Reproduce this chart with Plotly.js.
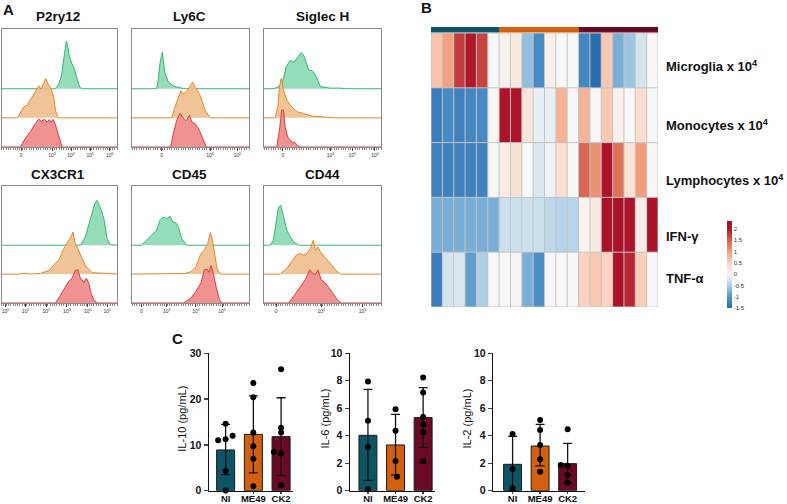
<!DOCTYPE html>
<html><head><meta charset="utf-8">
<script src="https://cdn.plot.ly/plotly-3.0.1.min.js"></script>
<style>html,body{margin:0;padding:0;background:#fff}#chart{width:787px;height:504px}</style>
</head><body><div id="chart"></div>
<script>
// ---------------- Panel A: flow histograms (x in display units 0-100, heights in lane units) ----------------
const histTitles = ['P2ry12', 'Ly6C', 'Siglec H', 'CX3CR1', 'CD45', 'CD44'];

const p2ry12GreenX = [0,46.5,49.6,51.9,54.5,56.2,57.3,58.8,61.1,63.1,65.4,67.7,70,100];
const p2ry12GreenH = [0,0,0.15,0.45,1.2,1.64,1.45,1.1,0.85,0.68,0.35,0.05,0,0];
const p2ry12OrangeX = [0,14,19.3,22.2,26.5,29.4,32.3,34.3,36.6,38.3,40.9,42.9,45.2,46.7,48.7,100];
const p2ry12OrangeH = [0,0,0.38,0.43,0.72,0.9,1.1,0.98,1.18,1.35,1.12,1.0,0.72,0.26,0,0];
const p2ry12RedX = [0,16.4,20.7,25.1,29.4,32.3,34.3,37.2,39.5,41.5,42.9,44.7,46.7,49.6,52.4,100];
const p2ry12RedH = [0,0,0.3,0.53,0.81,0.96,0.87,0.96,0.85,0.94,0.85,0.95,0.76,0.41,0,0];

const ly6cGreenX = [0,21,22.4,23.9,25.9,28.2,31,35.3,42.5,46,100];
const ly6cGreenH = [0,0,0.3,0.87,1.25,0.53,0.24,0.09,0.02,0,0];
const ly6cOrangeX = [0,33.9,36.8,39.7,41.7,44,46.3,48.9,51.7,54,57.5,59.8,62.6,66.9,100];
const ly6cOrangeH = [0,0,0.38,0.72,0.93,0.82,0.9,1.05,1.22,1.05,0.84,0.59,0.26,0,0];
const ly6cRedX = [0,33,35.3,38.2,41.1,43.4,46.3,49.1,51.1,54,56.9,59.8,63.5,100];
const ly6cRedH = [0,0,0.46,0.92,1.15,1.01,0.9,1.09,0.86,0.8,0.63,0.35,0,0];

const siglecGreenX = [0,8.6,15.2,19,22.4,25.9,28.7,31.9,34.5,38.2,41.1,44,48.3,56.9,65.5,70,100];
const siglecGreenH = [0,0,0.13,0.76,0.97,0.91,1.08,1.24,1.1,0.64,0.62,0.47,0.07,0.02,0.02,0,0];
const siglecOrangeX = [0,9.5,11.8,13.2,14.7,16.7,19.5,22.4,25.3,28.2,33.9,41.1,54,60,100];
const siglecOrangeH = [0,0,0.38,1.07,1.36,0.95,0.61,0.44,0.32,0.21,0.15,0.06,0.02,0,0];
const siglecRedX = [0,10.9,13.2,15.2,16.7,18.1,20.1,23.9,26.7,29.6,31,100];
const siglecRedH = [0,0,0.58,1.27,1.27,0.69,0.35,0.17,0.14,0.02,0,0];

const cx3cr1GreenX = [0,68.3,72.6,75.5,78.4,80.7,82.7,84.7,87,89,91.4,94.2,97,100];
const cx3cr1GreenH = [0,0,0.29,0.69,1.09,1.44,1.55,1.35,1.15,0.86,0.23,0.02,0,0];
const cx3cr1OrangeX = [0,15,19.3,25,33.7,41.8,45.2,49.6,54,58.2,60.5,61.9,63.4,66,69.7,73.5,78.4,92.8,96,100];
const cx3cr1OrangeH = [0,0,0.03,0,0.02,0.14,0.31,0.48,0.89,1.17,1.31,1.46,1.12,0.89,0.54,0.25,0.05,0.02,0,0];
const cx3cr1RedX = [0,46.7,49.6,54,58.2,61.1,64,66,68.3,71.2,73.5,75.5,77.5,79.8,82.7,100];
const cx3cr1RedH = [0,0,0.17,0.46,0.75,0.86,1.13,1.15,0.86,0.71,0.86,0.69,0.35,0.12,0,0];

const cd45GreenX = [0,8,12.4,16.7,21,23.9,26.7,29.6,32.5,34.8,37.6,39.7,42.5,46.8,100];
const cd45GreenH = [0,0,0.17,0.35,0.52,0.86,0.98,0.92,1.0,0.81,0.77,0.63,0.23,0,0];
const cd45OrangeX = [0,10,30,45,50.3,54.6,58.3,61.8,64.7,67,69,71.3,72.7,75.6,100];
const cd45OrangeH = [0,0,0.02,0.02,0.08,0.25,0.66,0.83,1.06,1.44,1.12,0.6,0.2,0,0];
const cd45RedX = [0,44,50.3,54.6,58.9,61.8,64.1,65.8,67.5,69.5,71.8,74.7,76.7,100];
const cd45RedH = [0,0,0.17,0.4,0.69,1.15,1.17,1.06,1.29,1.04,0.58,0.12,0,0];

const cd44GreenX = [0,5.2,8,10.3,12.4,14.4,16.7,19.5,22.4,25.3,29.6,100];
const cd44GreenH = [0,0,0.17,0.86,1.32,1.38,0.98,0.52,0.29,0.12,0,0];
const cd44OrangeX = [0,13.8,19.5,23.9,27.6,30.5,33.9,36.8,39.7,42,44,46,48.3,51.1,55.5,61.2,65.5,100];
const cd44OrangeH = [0,0,0.2,0.43,0.66,0.71,0.66,0.71,0.89,1.17,0.83,0.94,0.77,0.62,0.43,0.14,0,0];
const cd44RedX = [0,21,25.3,31,35.3,39.1,41.1,44,46,48.9,52.6,55.5,58.3,62.6,65.5,100];
const cd44RedH = [0,0,0.23,0.58,0.81,1.15,1.04,0.98,1.15,0.81,0.69,0.52,0.35,0.12,0,0];

const histTickVals = [
  [17, 43.8, 60.2, 76.9, 93.7],
  [25.3, 66.7, 90.2],
  [16.1, 56.9, 75.6, 94.8],
  [3.4, 20.7, 38.8, 56.6, 74.7, 91.6],
  [8, 29.6, 54.6, 77],
  [10.3, 48.9, 84.2]
];
const histTickText = [
  ['0','10<sup>3</sup>','10<sup>4</sup>','10<sup>5</sup>','10<sup>6</sup>'],
  ['0','10<sup>4</sup>','10<sup>5</sup>'],
  ['0','10<sup>4</sup>','10<sup>5</sup>','10<sup>6</sup>'],
  ['10<sup>0</sup>','10<sup>1</sup>','10<sup>2</sup>','10<sup>3</sup>','10<sup>4</sup>','10<sup>5</sup>'],
  ['0','10<sup>3</sup>','10<sup>4</sup>','10<sup>5</sup>'],
  ['0','10<sup>4</sup>','10<sup>5</sup>']
];

// ---------------- Panel B: heatmap ----------------
const hmRowLabels = ['Microglia x 10<sup>4</sup>', 'Monocytes x 10<sup>4</sup>', 'Lymphocytes x 10<sup>4</sup>', 'IFN-γ', 'TNF-α'];
const hmGroups = [0,0,0,0,0,0,1,1,1,1,1,1,1,2,2,2,2,2,2,2];
const hmMicroglia   = [0.65,0.95,1.75,2.05,1.7,0.0,0.08,0.2,-0.65,-1.15,0.1,0.0,0.0,-1.2,-1.5,0.6,-0.8,-0.6,-0.25,0.0];
const hmMonocytes   = [-1.3,-1.15,-1.25,-1.2,-1.15,0.0,2.15,2.15,0.25,-0.1,-0.1,0.8,0.0,0.8,0.0,0.6,0.08,0.0,0.35,0.0];
const hmLymphocytes = [-1.25,-1.25,-1.25,-1.25,-1.25,0.0,0.15,0.3,0.0,-0.2,-0.05,0.35,0.0,1.45,1.1,2.1,1.35,0.3,1.0,0.0];
const hmIFNg        = [-0.8,-0.8,-0.8,-0.8,-0.8,-0.8,-0.3,-0.3,-0.3,-0.3,-0.4,-0.45,-0.45,0.05,0.2,2.2,2.2,2.2,0.15,2.2];
const hmTNFa        = [-1.3,-0.25,-0.2,-0.95,-0.5,0.0,0.0,0.05,-0.8,-1.1,0.0,0.0,0.0,0.5,0.6,0.5,2.2,1.9,0.55,0.0];
const cbTicks = [-1.5,-1,-0.5,0,0.5,1,1.5,2];

// ---------------- Panel C: cytokines ----------------
const groupCats = ['NI','ME49','CK2'];
const groupColors = ['#0d5566','#d3600f','#6b0a24'];

const il10Mean = [8.9, 12.3, 11.8];
const il10Upper = [14.5, 20.7, 20.3];
const il10Lower = [3.5, 3.9, 3.3];
const il10NI = [14.6, 11.0, 11.25, 12.0, 4.3, 0.07];
const il10NIJit = [0, -0.27, 0, 0.25, 0, 0];
const il10ME49 = [23.5, 20.4, 12.7, 9.7, 7.0, 0.96];
const il10ME49Jit = [0,0,0,0,0,0];
const il10CK2 = [26.5, 13.75, 12.7, 8.45, 8.1, 1.2];
const il10CK2Jit = [0,0,0,-0.26,0,0];

const il6Mean = [4.03, 3.33, 5.32];
const il6Upper = [7.38, 5.55, 7.5];
const il6Lower = [0.75, 1.14, 3.15];
const il6NI = [7.94, 5.1, 3.18, 0.1];
const il6NIJit = [0,0,0,0];
const il6ME49 = [5.92, 4.37, 2.16, 1.02];
const il6ME49Jit = [0,0,0,0.05];
const il6CK2 = [8.23, 7.14, 5.36, 4.83, 4.25, 2.14];
const il6CK2Jit = [0,0,0,0,0,0];

const il2Mean = [1.92, 3.25, 1.97];
const il2Upper = [3.96, 4.83, 3.45];
const il2Lower = [0, 1.8, 0.53];
const il2NI = [4.13, 1.58, 0.17];
const il2NIJit = [0,0,0];
const il2ME49 = [5.15, 4.42, 3.33, 2.28, 1.38];
const il2ME49Jit = [0,0,0,0,0];
const il2CK2 = [4.47, 1.87, 1.82, 1.14, 0.6];
const il2CK2Jit = [0,-0.25,0,0,0];

// ---------------- build ----------------
const W = 787, H = 504;
const dx = (a, b) => [a / W, b / W];
const dy = (top, bottom) => [1 - bottom / H, 1 - top / H];
const FONT = 'Liberation Sans, Arial, sans-serif';

const traces = [];
const layout = {
  width: W, height: H, margin: {l:0, r:0, t:0, b:0},
  paper_bgcolor: '#fff', plot_bgcolor: 'rgba(0,0,0,0)',
  font: {family: FONT, color: '#000'},
  showlegend: false, annotations: [], shapes: []
};

const histSets = [
  [p2ry12GreenX,p2ry12GreenH,p2ry12OrangeX,p2ry12OrangeH,p2ry12RedX,p2ry12RedH],
  [ly6cGreenX,ly6cGreenH,ly6cOrangeX,ly6cOrangeH,ly6cRedX,ly6cRedH],
  [siglecGreenX,siglecGreenH,siglecOrangeX,siglecOrangeH,siglecRedX,siglecRedH],
  [cx3cr1GreenX,cx3cr1GreenH,cx3cr1OrangeX,cx3cr1OrangeH,cx3cr1RedX,cx3cr1RedH],
  [cd45GreenX,cd45GreenH,cd45OrangeX,cd45OrangeH,cd45RedX,cd45RedH],
  [cd44GreenX,cd44GreenH,cd44OrangeX,cd44OrangeH,cd44RedX,cd44RedH]
];
const histStyles = [
  {base: 2, line: '#34b877', fill: 'rgba(130,214,172,0.85)'},
  {base: 1, line: '#e2892f', fill: 'rgba(240,190,140,0.9)'},
  {base: 0, line: '#e23a40', fill: 'rgba(238,134,134,0.9)'}
];
const boxCols = [[1.5,117],[132,249],[264,381]];
const boxRows = [[29,147],[186,303]];
const titleY = [16, 174];
const titleX = [58, 189, 322];

histSets.forEach((set, i) => {
  const n = i + 1;
  const col = i % 3, row = Math.floor(i / 3);
  histStyles.forEach((st, k) => {
    traces.push({
      type: 'scatter', mode: 'lines', x: set[2*k], y: set[2*k+1].map(h => h + st.base),
      fill: 'toself', fillcolor: st.fill, line: {color: st.line, width: 1},
      xaxis: 'x' + n, yaxis: 'y' + n, hoverinfo: 'skip'
    });
  });
  layout['xaxis' + n] = {
    domain: dx(boxCols[col][0], boxCols[col][1]), anchor: 'y' + n, range: [0, 100],
    showline: true, mirror: true, linecolor: '#8a8a8a', linewidth: 1,
    showgrid: false, zeroline: false, fixedrange: true,
    tickmode: 'array', tickvals: histTickVals[i], ticktext: histTickText[i],
    ticks: 'outside', ticklen: 3, tickwidth: 1, tickcolor: '#444',
    tickfont: {size: 5, color: '#333'},
    minor: {ticks: 'outside', ticklen: 1.5, dtick: 2, tickcolor: '#666', tickwidth: 0.8}
  };
  layout['yaxis' + n] = {
    domain: dy(boxRows[row][0], boxRows[row][1]), anchor: 'x' + n, range: [0, 4.05],
    showline: true, mirror: true, linecolor: '#8a8a8a', linewidth: 1,
    showgrid: false, zeroline: false, showticklabels: false, ticks: '', fixedrange: true
  };
  layout.annotations.push({
    text: histTitles[i], xref: 'paper', yref: 'paper', x: titleX[col] / W, y: 1 - titleY[row] / H,
    xanchor: 'center', yanchor: 'middle', showarrow: false,
    font: {family: FONT, size: 13.5, weight: 'bold', color: '#111'}
  });
});

// Heatmap
const hmZ = [hmMicroglia, hmMonocytes, hmLymphocytes, hmIFNg, hmTNFa];
const zmin = -1.5, zmax = 2.35;
const f = v => (v - zmin) / (zmax - zmin);
const hmScale = [
  [0, '#2a6db0'], [f(-1), '#5597cb'], [f(-0.5), '#aed0e7'], [f(0), '#f7f7f7'],
  [f(0.5), '#fbd3bf'], [f(1), '#f19d7c'], [f(1.5), '#d6604d'], [f(2), '#b2182b'], [1, '#a50f28']
];
const colIdx = hmGroups.map((g, i) => i);
traces.push({
  type: 'heatmap', z: hmZ, x: colIdx, y: [0,1,2,3,4], zmin, zmax, colorscale: hmScale,
  xaxis: 'x7', yaxis: 'y7', hoverinfo: 'skip',
  colorbar: {
    x: 727 / W, xanchor: 'left', xpad: 0, ypad: 0, thickness: 5, thicknessmode: 'pixels',
    len: 87 / H, lenmode: 'fraction', y: 1 - 308 / H, yanchor: 'bottom',
    outlinewidth: 0, ticks: '', tickmode: 'array', tickvals: cbTicks, ticktext: cbTicks.map(String),
    tickfont: {size: 6, color: '#333'}
  }
});
layout.xaxis7 = {domain: dx(431, 658), anchor: 'y7', range: [-0.5, hmGroups.length - 0.5],
  showgrid: false, zeroline: false, showticklabels: false, ticks: '', fixedrange: true};
layout.yaxis7 = {domain: dy(33, 307), anchor: 'x7', range: [hmZ.length - 0.5, -0.5],
  showgrid: false, zeroline: false, showticklabels: false, ticks: '', fixedrange: true};

traces.push({
  type: 'heatmap', z: [hmGroups], x: colIdx, y: [0], zmin: 0, zmax: 2, showscale: false,
  colorscale: [[0, groupColors[0]], [0.333, groupColors[0]], [0.334, groupColors[1]], [0.666, groupColors[1]], [0.667, groupColors[2]], [1, groupColors[2]]],
  xaxis: 'x8', yaxis: 'y8', hoverinfo: 'skip'
});
layout.xaxis8 = {domain: dx(431, 658), anchor: 'y8', range: [-0.5, hmGroups.length - 0.5],
  showgrid: false, zeroline: false, showticklabels: false, ticks: '', fixedrange: true};
layout.yaxis8 = {domain: dy(27, 32.5), anchor: 'x8', range: [-0.5, 0.5],
  showgrid: false, zeroline: false, showticklabels: false, ticks: '', fixedrange: true};

// heatmap cell borders
for (let c = 0; c <= hmGroups.length; c++) {
  layout.shapes.push({type: 'line', xref: 'x7', yref: 'y7', x0: c - 0.5, x1: c - 0.5, y0: -0.5, y1: hmZ.length - 0.5,
    line: {color: '#c4c4c4', width: 1}, layer: 'above'});
}
for (let r = 0; r <= hmZ.length; r++) {
  layout.shapes.push({type: 'line', xref: 'x7', yref: 'y7', x0: -0.5, x1: hmGroups.length - 0.5, y0: r - 0.5, y1: r - 0.5,
    line: {color: '#c4c4c4', width: 1}, layer: 'above'});
}
const rowLabelY = [66, 125, 180, 236, 278];
hmRowLabels.forEach((t, i) => {
  layout.annotations.push({text: t, xref: 'paper', yref: 'paper', x: 664 / W, y: 1 - rowLabelY[i] / H,
    xanchor: 'left', yanchor: 'middle', showarrow: false,
    font: {family: FONT, size: 13, weight: 'bold', color: '#111'}});
});

// Cytokine bars
const cyto = [
  {n: 9, mean: il10Mean, up: il10Upper, lo: il10Lower, pts: [il10NI, il10ME49, il10CK2], jit: [il10NIJit, il10ME49Jit, il10CK2Jit],
   dom: [209, 293], range: [-0.6, 2.43], yr: [0, 30], dt: 10, label: 'IL-10 (pg/mL)', lx: 181.7},
  {n: 10, mean: il6Mean, up: il6Upper, lo: il6Lower, pts: [il6NI, il6ME49, il6CK2], jit: [il6NIJit, il6ME49Jit, il6CK2Jit],
   dom: [350, 435], range: [-0.65, 2.43], yr: [0, 10], dt: 2, label: 'IL-6 (pg/mL)', lx: 324.5},
  {n: 11, mean: il2Mean, up: il2Upper, lo: il2Lower, pts: [il2NI, il2ME49, il2CK2], jit: [il2NIJit, il2ME49Jit, il2CK2Jit],
   dom: [493.3, 585], range: [-0.7, 2.63], yr: [0, 10], dt: 2, label: 'IL-2 (pg/mL)', lx: 466.5}
];
cyto.forEach(p => {
  const ax = 'x' + p.n, ay = 'y' + p.n;
  traces.push({
    type: 'bar', x: [0, 1, 2], y: p.mean, width: 0.65, xaxis: ax, yaxis: ay,
    marker: {color: groupColors, line: {color: '#1a1a1a', width: 1}},
    error_y: {type: 'data', symmetric: false,
      array: p.mean.map((m, i) => p.up[i] - m), arrayminus: p.mean.map((m, i) => m - p.lo[i]),
      color: '#111', thickness: 1.3, width: 4.5},
    hoverinfo: 'skip'
  });
  p.pts.forEach((vals, g) => {
    traces.push({
      type: 'scatter', mode: 'markers', x: vals.map((v, k) => g + p.jit[g][k]), y: vals,
      marker: {color: '#000', size: 6}, xaxis: ax, yaxis: ay, cliponaxis: false, hoverinfo: 'skip'
    });
  });
  layout['xaxis' + p.n] = {domain: dx(p.dom[0], p.dom[1]), anchor: ay, range: p.range,
    showline: true, linecolor: '#111', linewidth: 1.5, showgrid: false, zeroline: false,
    tickmode: 'array', tickvals: [0, 1, 2], ticktext: groupCats, ticks: 'outside', ticklen: 2, tickwidth: 1.3,
    ticklabelstandoff: -4, tickangle: 0,
    tickfont: {size: 9.5, weight: 'bold', color: '#111'}, fixedrange: true};
  layout['yaxis' + p.n] = {domain: dy(353.3, 490.7), anchor: ax, range: p.yr,
    showline: true, linecolor: '#111', linewidth: 1.5, showgrid: false, zeroline: false,
    dtick: p.dt, tick0: 0, ticks: 'outside', ticklen: 4, tickwidth: 1.3,
    tickfont: {size: 10.5, weight: 'bold', color: '#111'}, fixedrange: true};
  layout.annotations.push({text: p.label, xref: 'paper', yref: 'paper', x: p.lx / W, y: 1 - 419 / H,
    textangle: -90, xanchor: 'center', yanchor: 'middle', showarrow: false,
    font: {family: FONT, size: 11, color: '#111'}});
});

// panel letters
[['A', 8, 9], ['B', 427, 8], ['C', 177, 338]].forEach(([t, x, y]) => {
  layout.annotations.push({text: t, xref: 'paper', yref: 'paper', x: x / W, y: 1 - y / H,
    xanchor: 'center', yanchor: 'middle', showarrow: false,
    font: {family: FONT, size: 15, weight: 'bold', color: '#111'}});
});

Plotly.newPlot('chart', traces, layout, {staticPlot: true, displayModeBar: false});
</script></body></html>
